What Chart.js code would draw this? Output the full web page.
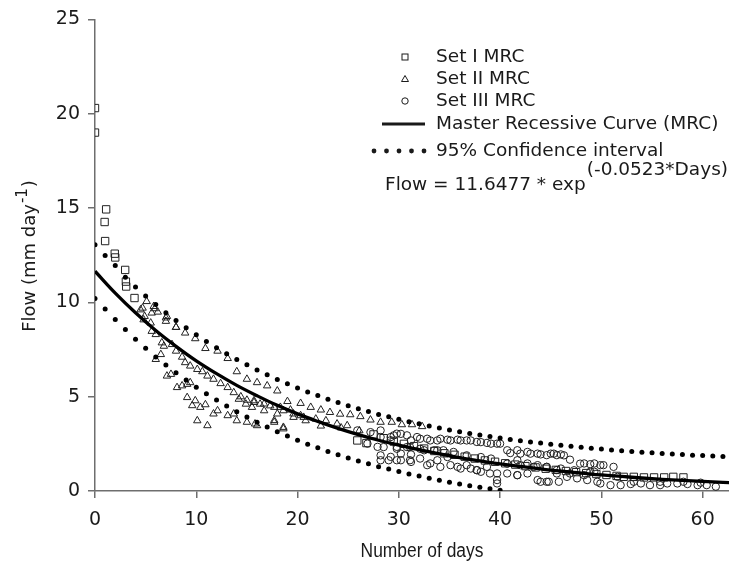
<!DOCTYPE html>
<html><head><meta charset="utf-8">
<script src="https://cdn.jsdelivr.net/npm/chart.js@4.4.1/dist/chart.umd.min.js"></script>
<style>html,body{margin:0;padding:0;background:#fff;}canvas{display:block;}</style>
</head><body>
<canvas id="c" width="729" height="566"></canvas>
<script>
// ---- labels ----
const seriesNames = ['Set I MRC', 'Set II MRC', 'Set III MRC', 'Master Recessive Curve (MRC)', '95% Confidence interval'];
const formulaMain = 'Flow = 11.6477 * exp';
const formulaSup = '(-0.0523*Days)';
const yTitleMain = 'Flow (mm day';
const yTitleSup = '-1';
const yTitleEnd = ')';
const xTitle = 'Number of days';
const xTickValues = [0, 10, 20, 30, 40, 50, 60];
const yTickValues = [0, 5, 10, 15, 20, 25];

// ---- Set I (squares) ----
const setIDays = [0,0,1.1,0.95,1.0,1.95,2.0,2.98,3.05,3.08,3.9,
 25.9,26.8,27.5,28.5,29.5,30.5,31.5,32.5,33.5,34.5,35.5,36.5,37.5,38.5,39.5,40.5,41.5,42.5,43.5,44.5,
 45.5,46.5,47.5,48.5,49.5,50.5,51.5,52.2,53.2,54.2,55.2,56.2,57.1,58.1];
const setIFlow = [20.3,19.0,14.93,14.26,13.25,12.58,12.38,11.72,11.1,10.84,10.23,
 2.68,2.54,3.0,2.8,2.62,2.5,2.38,2.25,2.12,2.0,1.92,1.82,1.72,1.62,1.55,1.47,1.4,1.32,1.25,1.18,
 1.12,1.06,1.0,0.95,0.9,0.85,0.8,0.75,0.75,0.72,0.72,0.72,0.75,0.72];

// ---- Set II (triangles) ----
const setIIDays = [5.1,4.7,5.9,6.2,7.0,4.9,8.0,5.8,4.5,5.6,7.1,7.0,8.0,8.9,9.9,10.9,12.1,13.1,14.0,15.0,16.0,17.0,18.0,19.0,20.3,21.3,22.3,23.2,24.2,25.2,26.2,
 4.8,5.5,5.6,6.0,6.6,6.8,7.6,8.0,6.5,6.0,8.6,8.9,9.4,10.1,10.6,11.1,11.7,12.4,13.1,13.7,14.4,15.0,15.7,16.3,17.3,18.3,19.3,20.3,
 7.1,7.5,8.1,8.6,9.1,9.4,9.1,9.6,9.9,10.4,10.9,10.1,11.1,11.7,12.1,13.1,13.7,14.0,15.0,16.0,17.7,18.6,14.2,14.9,15.5,16.7,18.0,19.6,
 15.7,16.7,17.7,18.6,19.6,20.6,17.7,18.6,15.8,
 27.2,28.2,29.3,30.3,31.3,32.3,20.8,21.8,22.8,23.9,24.9,22.3,24.3,26.1];
const setIIFlow = [10.05,9.7,9.67,9.49,9.18,9.26,8.68,9.79,9.61,9.44,9.26,9.0,8.68,8.38,8.08,7.56,7.42,7.03,6.33,5.93,5.75,5.58,5.31,4.75,4.65,4.44,4.3,4.17,4.08,4.05,3.95,
 9.08,8.91,8.47,8.3,7.86,7.68,7.77,7.42,7.24,6.98,7.1,6.81,6.63,6.45,6.33,6.1,5.93,5.7,5.49,5.22,5.0,4.82,4.7,4.61,4.52,4.44,4.3,4.0,
 6.1,6.19,5.49,5.58,5.66,5.75,4.96,4.53,4.79,4.44,4.58,3.73,3.47,4.09,4.26,4.0,4.09,3.73,3.65,3.47,3.65,3.38,4.87,4.61,4.44,4.26,4.09,3.91,
 4.79,4.62,4.44,4.26,4.09,3.91,3.74,3.3,3.56,
 3.77,3.65,3.65,3.52,3.52,3.42,3.73,3.82,3.73,3.56,3.47,3.45,3.35,3.2];

// ---- Set III (circles) ----
const setIIIDays = [26.9,28.2,29.0,30.2,31.2,31.2,32.8,33.8,34.8,35.8,36.7,37.7,38.7,39.7,39.7,40.7,41.7,42.7,44.0,44.8,45.8,46.9,48.3,49.3,49.9,50.9,51.9,52.9,53.9,54.8,55.8,56.5,57.5,58.5,59.5,60.4,61.3,
 28.2,29.2,30.2,31.2,32.1,33.1,34.1,35.1,36.1,37.1,38.1,39.1,40.0,41.0,42.0,43.0,44.0,45.0,46.0,46.9,47.9,48.9,49.9,51.2,
 28.5,29.8,30.8,32.1,33.5,34.4,35.4,36.7,38.1,39.1,40.7,42.0,43.3,44.6,46.0,47.3,48.9,51.6,53.2,55.8,58.1,59.8,
 29.8,30.8,31.8,32.8,33.8,34.8,35.8,36.7,37.7,38.7,39.7,29.8,31.1,32.1,33.1,34.1,35.1,36.1,37.1,38.1,39.0,39.7,40.7,41.7,42.7,43.7,44.6,45.6,41.7,42.7,43.7,44.6,45.6,43.7,44.6,41.7,37.7,31.1,32.5,33.8,30.2,
 27.9,25.9,27.2,29.2,29.8,29.2,28.2,28.2,29.5,
 45.3,46.3,48.3,49.3,50.2,45.6,46.6,47.6,48.6,49.6];
const setIIIFlow = [2.51,1.89,1.63,1.63,1.54,1.94,1.37,1.63,1.8,1.28,1.37,1.1,1.28,0.93,0.4,0.93,0.84,0.93,0.49,0.49,0.49,0.93,0.84,1.02,0.4,0.31,0.31,0.37,0.4,0.31,0.31,0.4,0.4,0.37,0.31,0.31,0.23,
 2.86,2.86,3.03,2.68,2.77,2.68,2.77,2.68,2.68,2.68,2.59,2.51,2.51,2.01,1.98,1.98,1.94,1.98,1.94,1.66,1.45,1.42,1.37,1.28,
 2.33,2.24,2.33,2.24,2.16,2.16,2.07,1.89,1.8,1.72,1.45,1.37,1.28,1.28,1.19,1.1,1.02,0.75,0.49,0.49,0.49,0.44,
 3.04,2.95,2.86,2.77,2.68,2.72,2.72,2.68,2.6,2.55,2.51,1.63,1.63,1.72,1.46,1.28,1.37,1.19,1.19,1.02,0.93,0.58,2.16,2.16,2.07,1.98,1.9,1.9,1.63,1.46,1.37,1.28,1.11,0.58,0.49,0.84,1.11,2.33,2.16,2.16,1.98,
 2.34,3.21,3.12,2.69,2.34,1.81,1.63,3.21,2.95,
 1.98,1.89,1.46,1.46,1.37,0.93,0.75,0.67,0.58,0.49];

// ---- Master recession curve ----
const mrcDays = [0,2,4,6,8,10,12,14,16,18,20,22,24,26,28,30,32,34,36,38,40,42,44,46,48,50,52,54,56,58,60,62,64];
const mrcFlow = [11.65,10.49,9.45,8.51,7.67,6.90,6.22,5.60,5.05,4.54,4.09,3.69,3.32,2.99,2.69,2.43,2.19,1.97,1.77,1.60,1.44,1.30,1.17,1.05,0.95,0.85,0.77,0.69,0.62,0.56,0.51,0.46,0.41];

// ---- 95% confidence interval ----
const ciUpperDays = [0,1,2,3,4,5,6,7,8,9,10,11,12,13,14,15,16,17,18,19,20,21,22,23,24,25,26,27,28,29,30,31,32,33,34,35,36,37,38,39,40,41,42,43,44,45,46,47,48,49,50,51,52,53,54,55,56,57,58,59,60,61,62];
const ciUpperFlow = [13.05,12.48,11.95,11.33,10.82,10.34,9.88,9.45,9.04,8.65,8.28,7.92,7.59,7.27,6.97,6.69,6.42,6.16,5.91,5.68,5.46,5.25,5.06,4.87,4.69,4.52,4.36,4.21,4.06,3.93,3.80,3.67,3.56,3.44,3.34,3.24,3.14,3.05,2.97,2.89,2.81,2.73,2.67,2.60,2.54,2.48,2.42,2.37,2.32,2.27,2.22,2.18,2.14,2.10,2.06,2.03,1.99,1.96,1.93,1.90,1.88,1.85,1.83];
const ciLowerDays = [0,1,2,3,4,5,6,7,8,9,10,11,12,13,14,15,16,17,18,19,20,21,22,23,24,25,26,27,28,29,30,31,32,33,34,35,36,37,38,39,40];
const ciLowerFlow = [10.2,9.65,9.09,8.56,8.05,7.57,7.11,6.68,6.27,5.88,5.50,5.15,4.82,4.50,4.20,3.92,3.65,3.39,3.14,2.91,2.69,2.48,2.29,2.10,1.92,1.75,1.59,1.44,1.29,1.16,1.03,0.90,0.79,0.67,0.57,0.47,0.37,0.28,0.20,0.12,0.04];

const zip = (xs, ys) => xs.map((x, i) => ({x: x, y: ys[i]}));

const INK = '#1a1a1a';
const AXIS = '#6e6e6e';
const FONT = '"DejaVu Sans", Verdana, sans-serif';

const overlay = {
  id: 'overlay',
  afterDraw(chart) {
    const ctx = chart.ctx;
    ctx.save();
    ctx.fillStyle = INK;
    ctx.strokeStyle = INK;
    // legend
    const rows = [57, 79, 101, 124, 151];
    const tx = 436, mx = 405;
    ctx.font = '18.5px ' + FONT;
    ctx.textAlign = 'left';
    ctx.textBaseline = 'middle';
    seriesNames.forEach((n, i) => ctx.fillText(n, tx, rows[i]));
    ctx.lineWidth = 1;
    ctx.strokeRect(mx - 3, rows[0] - 3, 6, 6);
    ctx.beginPath();
    ctx.moveTo(mx, rows[1] - 3.5); ctx.lineTo(mx + 3.5, rows[1] + 2.5); ctx.lineTo(mx - 3.5, rows[1] + 2.5); ctx.closePath();
    ctx.stroke();
    ctx.beginPath(); ctx.arc(mx, rows[2], 3.2, 0, Math.PI * 2); ctx.stroke();
    ctx.lineWidth = 3.2;
    ctx.beginPath(); ctx.moveTo(382, rows[3]); ctx.lineTo(425, rows[3]); ctx.stroke();
    for (let k = 0; k < 5; k++) {
      ctx.beginPath(); ctx.arc(374 + k * 12.5, rows[4], 2.4, 0, Math.PI * 2); ctx.fill();
    }
    // formula
    ctx.font = '18.5px ' + FONT;
    ctx.textBaseline = 'alphabetic';
    const fw = ctx.measureText(formulaMain).width;
    const sw = ctx.measureText(formulaSup).width;
    const fx = 728 - fw - sw - 1;
    ctx.fillText(formulaMain, fx, 190);
    ctx.fillText(formulaSup, fx + fw + 1, 175);
    // y title
    ctx.save();
    ctx.translate(30, 256);
    ctx.rotate(-Math.PI / 2);
    ctx.font = '18px ' + FONT;
    const w1 = ctx.measureText(yTitleMain).width;
    const w3 = ctx.measureText(yTitleEnd).width;
    ctx.font = '15px ' + FONT;
    const w2 = ctx.measureText(yTitleSup).width;
    const W = w1 + w2 + w3 + 2;
    let p = -W / 2;
    ctx.textBaseline = 'middle';
    ctx.font = '18px ' + FONT;
    ctx.fillText(yTitleMain, p, 0); p += w1 + 1;
    ctx.font = '15px ' + FONT;
    ctx.fillText(yTitleSup, p, -7); p += w2 + 1;
    ctx.font = '18px ' + FONT;
    ctx.fillText(yTitleEnd, p, 0);
    ctx.restore();
    // x title (condensed)
    ctx.save();
    ctx.translate(422, 551);
    ctx.scale(0.87, 1);
    ctx.font = '20px "Liberation Sans", Arial, sans-serif';
    ctx.textAlign = 'center';
    ctx.textBaseline = 'middle';
    ctx.fillText(xTitle, 0, 0);
    ctx.restore();
    ctx.restore();
  }
};

const markerBase = {showLine: false, pointBackgroundColor: 'rgba(0,0,0,0)', pointBorderColor: '#222', pointBorderWidth: 1, pointHoverRadius: 0};

new Chart(document.getElementById('c'), {
  type: 'scatter',
  data: {
    datasets: [
      {label: seriesNames[3], data: zip(mrcDays, mrcFlow), showLine: true, borderColor: '#000', borderWidth: 3.3, pointRadius: 0, tension: 0.4, fill: false},
      {label: seriesNames[4], data: zip(ciUpperDays, ciUpperFlow), showLine: false, pointRadius: 2.5, pointBackgroundColor: '#000', pointBorderWidth: 0},
      {label: seriesNames[4] + ' (lower)', data: zip(ciLowerDays, ciLowerFlow), showLine: false, pointRadius: 2.5, pointBackgroundColor: '#000', pointBorderWidth: 0},
      Object.assign({label: seriesNames[0], data: zip(setIDays, setIFlow), pointStyle: 'rect', pointRadius: 5.2}, markerBase),
      Object.assign({label: seriesNames[1], data: zip(setIIDays, setIIFlow), pointStyle: 'triangle', pointRadius: 4.3}, markerBase),
      Object.assign({label: seriesNames[2], data: zip(setIIIDays, setIIIFlow), pointStyle: 'circle', pointRadius: 3.7}, markerBase)
    ]
  },
  options: {
    responsive: false,
    animation: false,
    events: [],
    layout: {autoPadding: false, padding: {top: 16, right: 0, left: 0, bottom: 0}},
    plugins: {legend: {display: false}, tooltip: {enabled: false}},
    scales: {
      x: {
        type: 'linear', min: 0, max: 62.6,
        afterBuildTicks(s) { s.ticks = xTickValues.map(v => ({value: v})); },
        ticks: {stepSize: 10, includeBounds: false, color: INK, font: {family: FONT, size: 19}, padding: 11, maxRotation: 0},
        grid: {drawOnChartArea: false, drawTicks: true, tickLength: 7, color: AXIS, lineWidth: 1.5},
        border: {display: true, color: AXIS, width: 1.5},
        afterFit(s) { s.height = 75; }
      },
      y: {
        type: 'linear', min: 0, max: 25,
        afterBuildTicks(s) { s.ticks = yTickValues.map(v => ({value: v})); },
        ticks: {stepSize: 5, color: INK, font: {family: FONT, size: 19}, padding: 8},
        grid: {drawOnChartArea: false, drawTicks: true, tickLength: 7, color: AXIS, lineWidth: 1.5},
        border: {display: true, color: AXIS, width: 1.5},
        afterFit(s) { s.width = 95; }
      }
    }
  },
  plugins: [overlay]
});
</script>
</body></html>
